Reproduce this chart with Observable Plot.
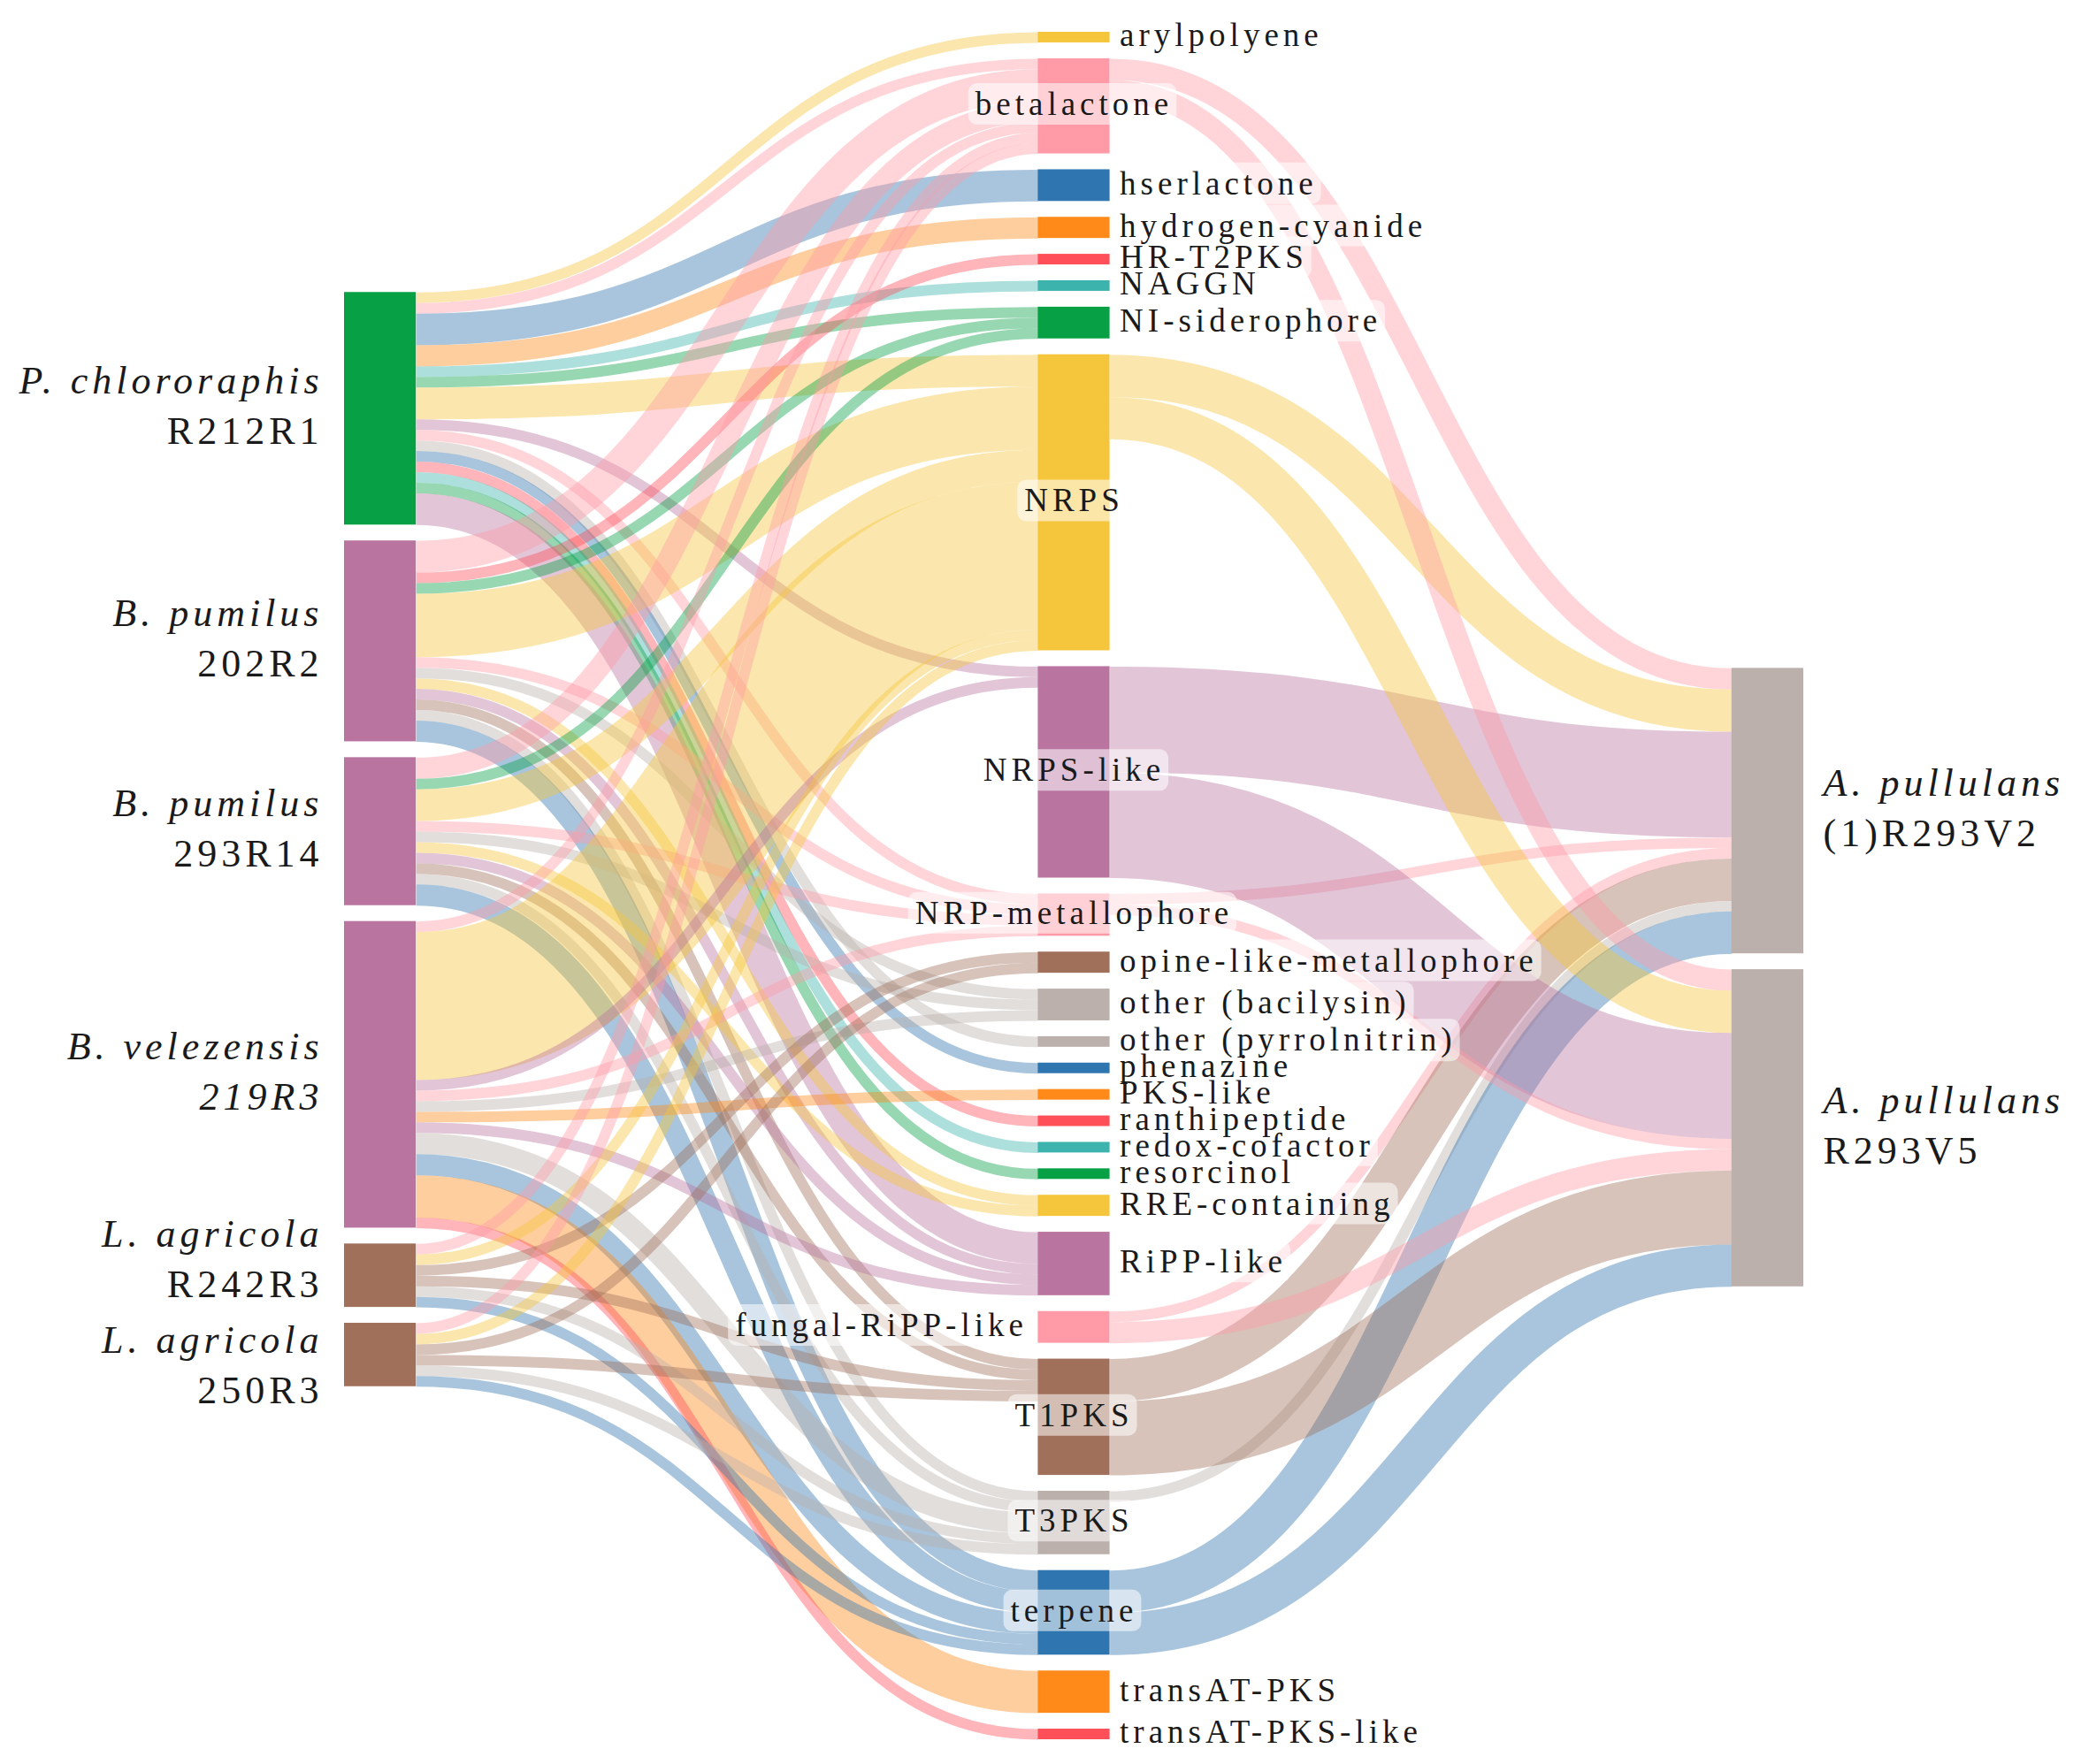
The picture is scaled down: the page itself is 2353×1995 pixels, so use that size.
<!DOCTYPE html>
<html>
<head>
<meta charset="utf-8">
<script src="https://cdn.jsdelivr.net/npm/d3@7"></script>
<script src="https://cdn.jsdelivr.net/npm/@observablehq/plot@0.6"></script>
<style>
  body { margin: 0; background: #fff; }
  #chart svg text { letter-spacing: 5px; }
</style>
</head>
<body>
<div id="chart"></div>
<script>
// ---------------- DATA ----------------
const bacteriaSpecies = ["P. chlororaphis", "B. pumilus", "B. pumilus", "B. velezensis", "L. agricola", "L. agricola"];
const bacteriaStrains = ["R212R1", "202R2", "293R14", "219R3", "R242R3", "250R3"];
const bacteriaGenus   = ["Pseudomonas", "Bacillus", "Bacillus", "Bacillus", "Lysobacter", "Lysobacter"];

const fungiSpecies = ["A. pullulans", "A. pullulans"];
const fungiStrains = ["(1)R293V2", "R293V5"];
const fungiGenus   = ["Aureobasidium", "Aureobasidium"];

const bgcTypes = [
  "arylpolyene", "betalactone", "hserlactone", "hydrogen-cyanide", "HR-T2PKS", "NAGGN",
  "NI-siderophore", "NRPS", "NRPS-like", "NRP-metallophore", "opine-like-metallophore",
  "other (bacilysin)", "other (pyrrolnitrin)", "phenazine", "PKS-like", "ranthipeptide",
  "redox-cofactor", "resorcinol", "RRE-containing", "RiPP-like", "fungal-RiPP-like",
  "T1PKS", "T3PKS", "terpene", "transAT-PKS", "transAT-PKS-like"
];

// bacterial strain -> BGC type, number of clusters
const bacteriaLinks = [
  ["R212R1", "arylpolyene", 1], ["R212R1", "betalactone", 1], ["R212R1", "hserlactone", 3],
  ["R212R1", "hydrogen-cyanide", 2], ["R212R1", "NAGGN", 1], ["R212R1", "NI-siderophore", 1],
  ["R212R1", "NRPS", 3], ["R212R1", "NRPS-like", 1], ["R212R1", "NRP-metallophore", 1],
  ["R212R1", "other (pyrrolnitrin)", 1], ["R212R1", "phenazine", 1], ["R212R1", "ranthipeptide", 1],
  ["R212R1", "redox-cofactor", 1], ["R212R1", "resorcinol", 1], ["R212R1", "RiPP-like", 3],

  ["202R2", "betalactone", 3], ["202R2", "HR-T2PKS", 1], ["202R2", "NI-siderophore", 1],
  ["202R2", "NRPS", 6], ["202R2", "NRP-metallophore", 1], ["202R2", "other (bacilysin)", 1],
  ["202R2", "RRE-containing", 1], ["202R2", "RiPP-like", 1], ["202R2", "T1PKS", 1],
  ["202R2", "T3PKS", 1], ["202R2", "terpene", 2],

  ["293R14", "betalactone", 2], ["293R14", "NI-siderophore", 1], ["293R14", "NRPS", 3],
  ["293R14", "NRP-metallophore", 1], ["293R14", "other (bacilysin)", 1], ["293R14", "RRE-containing", 1],
  ["293R14", "RiPP-like", 1], ["293R14", "T1PKS", 1], ["293R14", "T3PKS", 1], ["293R14", "terpene", 2],

  ["219R3", "betalactone", 1], ["219R3", "NRPS", 14], ["219R3", "NRPS-like", 1],
  ["219R3", "NRP-metallophore", 1], ["219R3", "other (bacilysin)", 1], ["219R3", "PKS-like", 1],
  ["219R3", "RiPP-like", 1], ["219R3", "T3PKS", 2], ["219R3", "terpene", 2],
  ["219R3", "transAT-PKS", 4], ["219R3", "transAT-PKS-like", 1],

  ["R242R3", "betalactone", 1], ["R242R3", "NRPS", 1], ["R242R3", "opine-like-metallophore", 1],
  ["R242R3", "T1PKS", 1], ["R242R3", "T3PKS", 1], ["R242R3", "terpene", 1],

  ["250R3", "betalactone", 1], ["250R3", "NRPS", 1], ["250R3", "opine-like-metallophore", 1],
  ["250R3", "T1PKS", 1], ["250R3", "T3PKS", 1], ["250R3", "terpene", 1]
];

// BGC type -> fungal strain, number of clusters
const fungiLinks = [
  ["betalactone", "(1)R293V2", 2], ["NRPS", "(1)R293V2", 4], ["NRPS-like", "(1)R293V2", 10],
  ["NRP-metallophore", "(1)R293V2", 1], ["fungal-RiPP-like", "(1)R293V2", 1], ["T1PKS", "(1)R293V2", 4],
  ["T3PKS", "(1)R293V2", 1], ["terpene", "(1)R293V2", 4],

  ["betalactone", "R293V5", 2], ["NRPS", "R293V5", 4], ["NRPS-like", "R293V5", 10],
  ["NRP-metallophore", "R293V5", 1], ["fungal-RiPP-like", "R293V5", 2], ["T1PKS", "R293V5", 7],
  ["terpene", "R293V5", 4]
];

// ---------------- STYLE ----------------
const pal = {
  yellow: "#f5c63c", pink: "#ff9aa6", blue: "#2f75af", orange: "#ff8a1a", red: "#ff4f58",
  teal: "#3cb3ac", green: "#08a045", purple: "#b9749f", brown: "#a0705a", gray: "#bbb0ac"
};
const genusColor = { Pseudomonas: pal.green, Bacillus: pal.purple, Lysobacter: pal.brown, Aureobasidium: pal.gray };
const typeColor = {
  "arylpolyene": pal.yellow, "betalactone": pal.pink, "hserlactone": pal.blue, "hydrogen-cyanide": pal.orange,
  "HR-T2PKS": pal.red, "NAGGN": pal.teal, "NI-siderophore": pal.green, "NRPS": pal.yellow,
  "NRPS-like": pal.purple, "NRP-metallophore": pal.pink, "opine-like-metallophore": pal.brown,
  "other (bacilysin)": pal.gray, "other (pyrrolnitrin)": pal.gray, "phenazine": pal.blue,
  "PKS-like": pal.orange, "ranthipeptide": pal.red, "redox-cofactor": pal.teal, "resorcinol": pal.green,
  "RRE-containing": pal.yellow, "RiPP-like": pal.purple, "fungal-RiPP-like": pal.pink, "T1PKS": pal.brown,
  "T3PKS": pal.gray, "terpene": pal.blue, "transAT-PKS": pal.orange, "transAT-PKS-like": pal.red
};
const italicStrains = new Set(["219R3"]);

const W = 2353, H = 1995;
const MT = 36, MB = 28, ML = 389, MR = 314;
const PAD = 1.5;        // gap between nodes (value units)
const NODE_W = 0.1035;  // node width (column units)
const FONT = "'Liberation Serif', 'Times New Roman', Times, serif";

// ---------------- LAYOUT ----------------
const nodes = new Map();
bacteriaStrains.forEach((id, i) => nodes.set(id, { id, col: 0, species: bacteriaSpecies[i], strain: id, color: genusColor[bacteriaGenus[i]], ins: [], outs: [] }));
bgcTypes.forEach(id => nodes.set(id, { id, col: 1, color: typeColor[id], ins: [], outs: [] }));
fungiStrains.forEach((id, i) => nodes.set(id, { id, col: 2, species: fungiSpecies[i], strain: id, color: genusColor[fungiGenus[i]], ins: [], outs: [] }));

const links = [
  ...bacteriaLinks.map(([s, t, v]) => ({ source: s, target: t, value: v, color: typeColor[t] })),
  ...fungiLinks.map(([s, t, v]) => ({ source: s, target: t, value: v, color: typeColor[s] }))
];
for (const l of links) { nodes.get(l.source).outs.push(l); nodes.get(l.target).ins.push(l); }
for (const n of nodes.values()) n.value = Math.max(d3.sum(n.ins, l => l.value), d3.sum(n.outs, l => l.value));

const cols = [0, 1, 2].map(c => [...nodes.values()].filter(n => n.col === c));
// middle column fully packed
const mid = cols[1];
const yTotal = d3.sum(mid, n => n.value) + PAD * (mid.length - 1);
let yy = 0;
for (const n of mid) { n.y0 = yy; n.y1 = yy + n.value; yy = n.y1 + PAD; }
// side columns: stacked, centred on the weighted centre of their partners
for (const c of [0, 2]) {
  const col = cols[c];
  const ideal = n => {
    const ls = c === 0 ? n.outs : n.ins;
    return d3.sum(ls, l => { const o = nodes.get(c === 0 ? l.target : l.source); return l.value * (o.y0 + o.y1) / 2; }) / d3.sum(ls, l => l.value);
  };
  const total = d3.sum(col, n => n.value) + PAD * (col.length - 1);
  const wc = d3.sum(col, n => n.value * ideal(n)) / d3.sum(col, n => n.value);
  let top = Math.max(0, Math.min(yTotal - total, wc - total / 2));
  for (const n of col) { n.y0 = top; n.y1 = top + n.value; top = n.y1 + PAD; }
}
for (const n of nodes.values()) {
  n.x0 = n.col; n.x1 = n.col + NODE_W; n.yc = (n.y0 + n.y1) / 2;
}
// link attachment points
for (const n of nodes.values()) {
  n.outs.sort((a, b) => nodes.get(a.target).y0 - nodes.get(b.target).y0);
  let y = n.y0;
  for (const l of n.outs) { l.sy = y + l.value / 2; y += l.value; }
  n.ins.sort((a, b) => nodes.get(a.source).y0 - nodes.get(b.source).y0);
  y = n.y0;
  for (const l of n.ins) { l.ty = y + l.value / 2; y += l.value; }
}
for (const l of links) { l.x1 = nodes.get(l.source).x1; l.x2 = nodes.get(l.target).x0; }

const ky = (H - MT - MB) / yTotal;

// side labels: two-line blocks, spread apart if they collide
const BLOCK_MIN = 120 / ky;
for (const c of [0, 2]) {
  const col = cols[c];
  col.forEach(n => n.ly = n.yc + 10.5 / ky);
  for (let it = 0; it < 20; it++) {
    for (let i = 0; i < col.length - 1; i++) {
      const d = col[i + 1].ly - col[i].ly;
      if (d < BLOCK_MIN) { const s = (BLOCK_MIN - d) / 2; col[i].ly -= s; col[i + 1].ly += s; }
    }
  }
}
// middle labels
for (const n of mid) {
  const hasIn = n.ins.length > 0, hasOut = n.outs.length > 0;
  n.pos = hasIn && hasOut ? "center" : hasOut ? "left" : "right";
}
const sideNodes = [...cols[0], ...cols[2]];

// ---------------- PLOT ----------------
const plot = Plot.plot({
  width: W, height: H,
  marginTop: MT, marginBottom: MB, marginLeft: ML, marginRight: MR,
  style: { background: "#fff", fontFamily: FONT },
  x: { domain: [0, 2 + NODE_W], axis: null },
  y: { domain: [0, yTotal], reverse: true, axis: null },
  color: { type: "identity" },
  marks: [
    Plot.link(links, {
      x1: "x1", y1: "sy", x2: "x2", y2: "ty", curve: "bump-x",
      stroke: "color", strokeOpacity: 0.42, strokeWidth: d => d.value * ky
    }),
    Plot.rect([...nodes.values()], { x1: "x0", x2: "x1", y1: "y0", y2: "y1", fill: "color", inset: 0 }),
    // middle labels
    Plot.text(mid, {
      x: n => n.pos === "center" ? (n.x0 + n.x1) / 2 : n.pos === "left" ? n.x0 : n.x1,
      y: "yc", text: "id",
      textAnchor: n => n.pos, // placeholder overwritten below
      ariaDescription: "midlabels"
    }),
    // left species
    Plot.text(cols[0], { x: "x0", y: "ly", text: "species", textAnchor: "end", dx: -24, dy: -42,
      fontStyle: "italic", fontSize: 44, fill: "#1a1a1a", fontFamily: FONT }),
    Plot.text(cols[0].filter(n => !italicStrains.has(n.strain)), { x: "x0", y: "ly", text: "strain", textAnchor: "end", dx: -24, dy: 15,
      fontSize: 44, fill: "#1a1a1a", fontFamily: FONT }),
    Plot.text(cols[0].filter(n => italicStrains.has(n.strain)), { x: "x0", y: "ly", text: "strain", textAnchor: "end", dx: -24, dy: 15,
      fontStyle: "italic", fontSize: 44, fill: "#1a1a1a", fontFamily: FONT }),
    // right species
    Plot.text(cols[2], { x: "x1", y: "ly", text: "species", textAnchor: "start", dx: 22, dy: -42,
      fontStyle: "italic", fontSize: 44, fill: "#1a1a1a", fontFamily: FONT }),
    Plot.text(cols[2], { x: "x1", y: "ly", text: "strain", textAnchor: "start", dx: 22, dy: 15,
      fontSize: 44, fill: "#1a1a1a", fontFamily: FONT })
  ].map((m, i) => m)
});
</script>
<script>
// Rebuild: middle labels need per-anchor marks (textAnchor is a constant in Plot)
(function () {
  const midMarks = ["center", "left", "right"].map(pos => {
    const data = mid.filter(n => n.pos === pos);
    const anchor = pos === "center" ? "middle" : pos === "left" ? "end" : "start";
    const dx = pos === "center" ? 0 : pos === "left" ? -12 : 11;
    return Plot.text(data, {
      x: n => pos === "center" ? (n.x0 + n.x1) / 2 : pos === "left" ? n.x0 : n.x1,
      y: "yc", text: "id", textAnchor: anchor, dx, dy: -2,
      fontSize: 37, fill: "#1a1a1a", fontFamily: FONT, ariaDescription: "midlabels"
    });
  });
  const svg = Plot.plot({
    width: W, height: H,
    marginTop: MT, marginBottom: MB, marginLeft: ML, marginRight: MR,
    style: { background: "#fff", fontFamily: FONT },
    x: { domain: [0, 2 + NODE_W], axis: null },
    y: { domain: [0, yTotal], reverse: true, axis: null },
    color: { type: "identity" },
    marks: [
      Plot.link(links, {
        x1: "x1", y1: "sy", x2: "x2", y2: "ty", curve: "bump-x",
        stroke: "color", strokeOpacity: 0.42, strokeWidth: d => d.value * ky
      }),
      Plot.rect([...nodes.values()], { x1: "x0", x2: "x1", y1: "y0", y2: "y1", fill: "color", inset: 0 }),
      ...midMarks,
      Plot.text(cols[0], { x: "x0", y: "ly", text: "species", textAnchor: "end", dx: -24, dy: -42,
        fontStyle: "italic", fontSize: 44, fill: "#1a1a1a", fontFamily: FONT }),
      Plot.text(cols[0].filter(n => !italicStrains.has(n.strain)), { x: "x0", y: "ly", text: "strain", textAnchor: "end", dx: -24, dy: 15,
        fontSize: 44, fill: "#1a1a1a", fontFamily: FONT }),
      Plot.text(cols[0].filter(n => italicStrains.has(n.strain)), { x: "x0", y: "ly", text: "strain", textAnchor: "end", dx: -24, dy: 15,
        fontStyle: "italic", fontSize: 44, fill: "#1a1a1a", fontFamily: FONT }),
      Plot.text(cols[2], { x: "x1", y: "ly", text: "species", textAnchor: "start", dx: 22, dy: -42,
        fontStyle: "italic", fontSize: 44, fill: "#1a1a1a", fontFamily: FONT }),
      Plot.text(cols[2], { x: "x1", y: "ly", text: "strain", textAnchor: "start", dx: 22, dy: 15,
        fontSize: 44, fill: "#1a1a1a", fontFamily: FONT })
    ]
  });
  document.getElementById("chart").append(svg);
  // translucent rounded backgrounds behind the middle labels
  const ns = "http://www.w3.org/2000/svg";
  svg.querySelectorAll('g[aria-description="midlabels"]').forEach(g => {
    const texts = [...g.querySelectorAll("text")];
    for (const t of texts) {
      const b = t.getBBox();
      const r = document.createElementNS(ns, "rect");
      r.setAttribute("x", b.x - 8);
      r.setAttribute("y", b.y - 3);
      r.setAttribute("width", b.width + 12);
      r.setAttribute("height", b.height + 6);
      r.setAttribute("rx", 10);
      r.setAttribute("fill", "#fff");
      r.setAttribute("fill-opacity", 0.55);
      if (t.getAttribute("transform")) r.setAttribute("transform", t.getAttribute("transform"));
      g.insertBefore(r, g.firstChild);
    }
  });
})();
</script>
</body>
</html>
